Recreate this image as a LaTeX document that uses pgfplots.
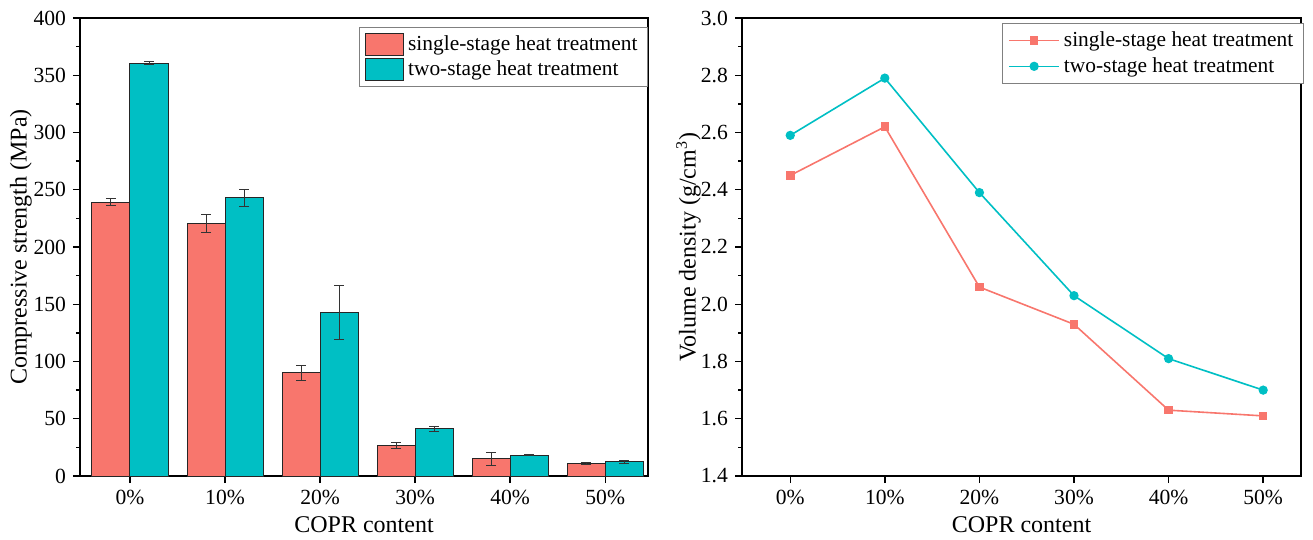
\documentclass[border=0pt]{standalone}
\usepackage{fontspec}
\setmainfont{Liberation Serif}
\usepackage{pgfplots}
\usepackage{pgfplotstable}
\pgfplotsset{compat=1.18}
\definecolor{cred}{RGB}{248,118,109}
\definecolor{ccyan}{RGB}{0,191,196}

\pgfplotstableread{
x y e
0 239.0 3.0
1 220.6 8.0
2 90.2 6.6
3 26.4 2.5
4 15.0 5.5
5 11.1 0.8
}\singlestr
\pgfplotstableread{
x y e
0 360.6 1.5
1 242.8 7.0
2 142.8 23.4
3 41.2 2.0
4 18.3 0.8
5 12.3 1.2
}\twostr
\pgfplotstableread{
x y
0 2.45
1 2.62
2 2.06
3 1.93
4 1.63
5 1.61
}\singleden
\pgfplotstableread{
x y
0 2.59
1 2.79
2 2.39
3 2.03
4 1.81
5 1.70
}\twoden

\pgfplotsset{
  common/.style={
    scale only axis, height=229pt,
    axis line style={line width=0.9pt},
    tick align=outside, tick pos=left,
    major tick length=3.5pt, minor tick length=2pt,
    tick style={black, line width=0.7pt},
    xtick={0,...,5},
    xticklabels={0\%,10\%,20\%,30\%,40\%,50\%},
    minor y tick num=1,
    ticklabel style={font=\fontsize{10.8}{12}\selectfont},
    label style={font=\fontsize{12}{14}\selectfont},
    /pgf/number format/assume math mode=true,
    xlabel={COPR content},
    xlabel style={at={(axis description cs:0.5,-0.107)}, anchor=center},
    legend cell align=left,
    legend style={font=\fontsize{10.7}{13}\selectfont, draw=gray,
      line width=0.5pt, anchor=north east, inner xsep=3pt, inner ysep=2pt},
  },
  errs/.style={error bars/.cd, y dir=both, y explicit,
    error bar style={line width=0.5pt, black!80},
    error mark options={rotate=90, mark size=2.5pt, line width=0.5pt, black!80}},
}

\begin{document}
\begin{tikzpicture}
\begin{axis}[common, width=284pt,
  xmin=-0.526, xmax=5.45,
  ymin=0, ymax=400, ytick={0,50,...,400},
  ylabel={Compressive strength (MPa)},
  ylabel style={at={(axis description cs:-0.104,0.5)}, anchor=center},
  legend style={at={(rel axis cs:1,0.981)}},
  legend image code/.code={\draw[#1] (0pt,-5.5pt) rectangle (19pt,5.5pt);}]
\addplot[ybar, bar width=0.4, bar shift=0pt, fill=cred, draw=black!85, line width=0.5pt, errs]
  table[x expr=\thisrow{x}-0.2, y=y, y error=e] {\singlestr};
\addlegendentry{single-stage heat treatment}
\addplot[ybar, bar width=0.4, bar shift=0pt, fill=ccyan, draw=black!85, line width=0.5pt, errs]
  table[x expr=\thisrow{x}+0.2, y=y, y error=e] {\twostr};
\addlegendentry{two-stage heat treatment}
\end{axis}

\begin{axis}[common, at={(331pt,0pt)}, width=279.5pt,
  xmin=-0.51, xmax=5.4,
  ymin=1.4, ymax=3.0, ytick={1.4,1.6,1.8,2.0,2.2,2.4,2.6,2.8,3.0},
  yticklabel style={/pgf/number format/.cd, fixed, fixed zerofill, precision=1},
  ylabel={Volume density (g/cm\textsuperscript{3})},
  ylabel style={at={(axis description cs:-0.0957,0.5)}, anchor=center},
  legend style={at={(rel axis cs:1.005,0.989)}},
  legend image code/.code={\draw[mark repeat=2, mark phase=2, #1] plot coordinates {(0pt,0pt) (12.5pt,0pt) (25pt,0pt)};}]
\addplot[cred, line width=0.8pt, mark=square*, mark size=1.75pt, mark options={solid, fill=cred}]
  table[x=x, y=y] {\singleden};
\addlegendentry{single-stage heat treatment}
\addplot[ccyan, line width=0.8pt, mark=*, mark size=1.9pt, mark options={solid, fill=ccyan}]
  table[x=x, y=y] {\twoden};
\addlegendentry{two-stage heat treatment}
\end{axis}
\path (-40pt,-31.5pt) rectangle (616.5pt,238pt);
\end{tikzpicture}
\end{document}
